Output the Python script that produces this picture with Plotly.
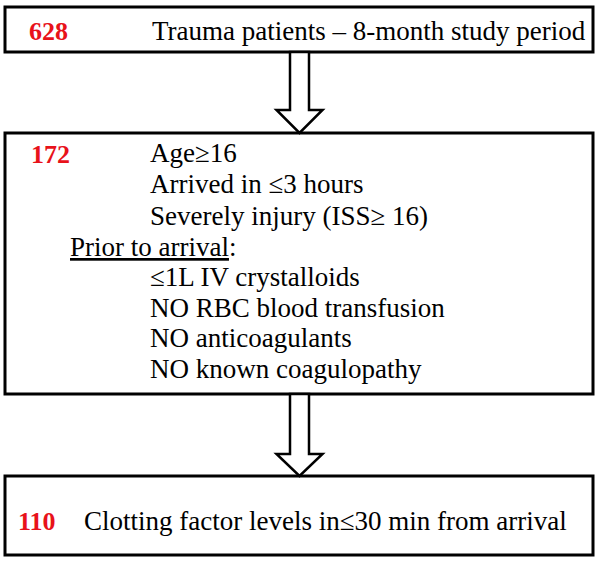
import plotly.graph_objects as go

# ---- data ----
counts = [628, 172, 110]
step_titles = ["Trauma patients \u2013 8-month study period",
               None,
               "Clotting factor levels in\u226430 min from arrival"]
criteria_lines = ["Age\u226516",
                  "Arrived in \u22643 hours",
                  "Severely injury (ISS\u2265 16)",
                  "<u>Prior to arrival</u>:",
                  "\u22641L IV crystalloids",
                  "NO RBC blood transfusion",
                  "NO anticoagulants",
                  "NO known coagulopathy"]

W, H = 600, 565
FONT = "Liberation Serif, Times New Roman, serif"
RED = "#e8121a"

fig = go.Figure()
fig.add_trace(go.Scatter(x=[0, W], y=[0, H], mode="markers",
                         marker=dict(opacity=0), hoverinfo="skip", showlegend=False))

# layout geometry (pixels)
boxes = [(5, 7, 593, 52), (5, 133, 593, 394), (5, 476, 593, 555)]
arrows = [(52, 110, 133), (394, 454, 476)]
shapes = []
for (x0, y0, x1, y1) in boxes:
    shapes.append(dict(type="rect", xref="x", yref="y", x0=x0, y0=y0, x1=x1, y1=y1,
                       line=dict(color="black", width=3), fillcolor="white", layer="below"))
cx, sw, hw = 299.5, 9.5, 23
for (ys, yh, yt) in arrows:
    path = (f"M {cx-sw},{ys} L {cx-sw},{yh} L {cx-hw},{yh} L {cx},{yt} "
            f"L {cx+hw},{yh} L {cx+sw},{yh} L {cx+sw},{ys} Z")
    shapes.append(dict(type="path", xref="x", yref="y", path=path,
                       line=dict(color="black", width=2.5), fillcolor="white"))

ann = []
def txt(x, y, s, size=27, color="black", bold=False):
    ann.append(dict(x=x, y=y, xref="x", yref="y", text=(f"<b>{s}</b>" if bold else s),
                    showarrow=False, xanchor="left", yanchor="middle",
                    font=dict(family=FONT, size=size, color=color)))

txt(27, 31, str(counts[0]), size=26, color=RED, bold=True)
txt(150, 31, step_titles[0])
txt(29, 154, str(counts[1]), size=26, color=RED, bold=True)
ys = [153, 184, 215.5, 246.5, 277, 307.5, 338, 369]
for i, line in enumerate(criteria_lines):
    x = 68 if line.startswith("<u>") else 148
    txt(x, ys[i], line)
txt(16, 521, str(counts[2]), size=26, color=RED, bold=True)
txt(82, 521, step_titles[2])

fig.update_layout(width=W, height=H, margin=dict(l=0, r=0, t=0, b=0),
                  plot_bgcolor="white", paper_bgcolor="white",
                  xaxis=dict(range=[0, W], visible=False, fixedrange=True),
                  yaxis=dict(range=[H, 0], visible=False, fixedrange=True),
                  shapes=shapes, annotations=ann, showlegend=False)
fig.write_html("out.html", config={"displayModeBar": False},
               post_script="document.body.style.margin='0';document.body.style.overflow='hidden';")
